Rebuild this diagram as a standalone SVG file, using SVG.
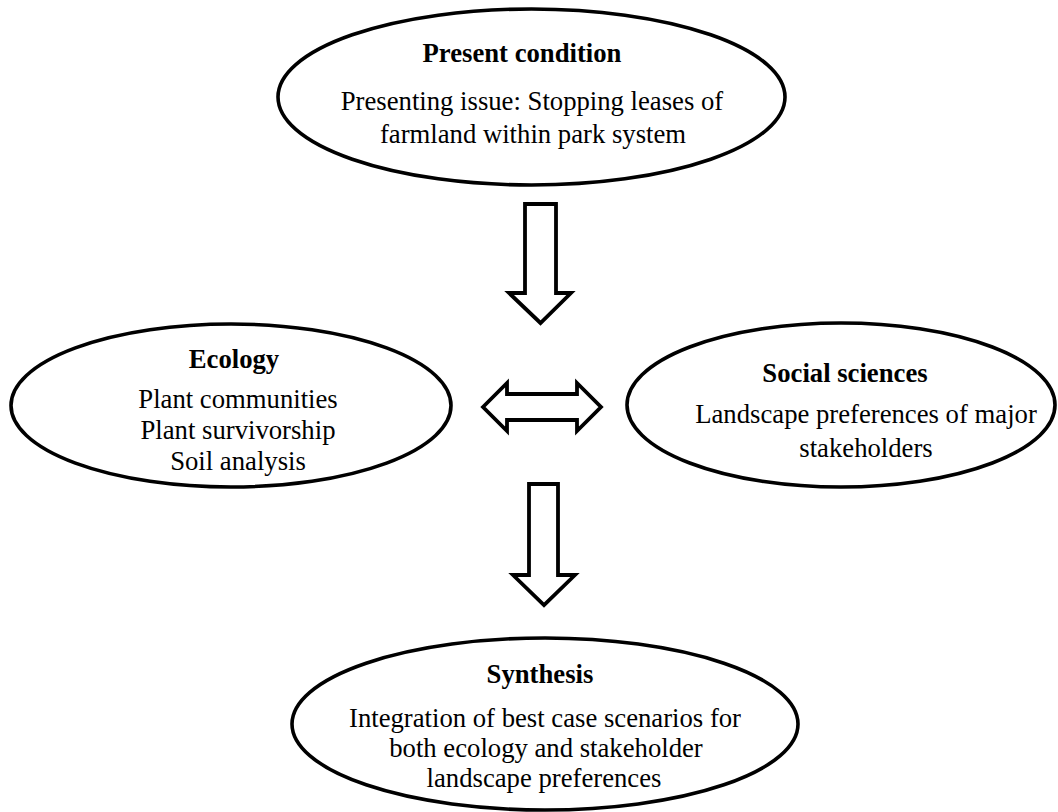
<svg xmlns="http://www.w3.org/2000/svg" width="1058" height="812" viewBox="0 0 1058 812">
<style>
.node{fill:#fff;stroke:#000;stroke-width:3.6}
.arrow{fill:#fff;stroke:#000;stroke-width:3.8;stroke-linejoin:miter}
text{font-family:"Liberation Serif","Times New Roman",serif;font-size:26.7px;fill:#000;text-anchor:middle}
.t{font-weight:bold}
</style>
<rect width="1058" height="812" fill="#fff"/>
<g id="connectors">
<path class="arrow" d="M525,204 H556 V293 H571 L540.5,323 L509,293 H525 Z"/>
<path class="arrow" d="M483,407 L507,383 V394 H577 V383 L601,407 L577,431 V420 H507 V431 Z"/>
<path class="arrow" d="M529,484 H558 V575 H575 L544,605 L513,575 H529 Z"/>
</g>
<g id="present">
<ellipse class="node" cx="531.5" cy="97" rx="253.5" ry="88"/>
<text class="t" x="522" y="62">Present condition</text>
<text x="532" y="110">Presenting issue: Stopping leases of</text>
<text x="533" y="143">farmland within park system</text>
</g>
<g id="ecology">
<ellipse class="node" cx="231" cy="405.5" rx="220" ry="81.5"/>
<text class="t" x="234" y="368">Ecology</text>
<text x="238" y="408">Plant communities</text>
<text x="238" y="439">Plant survivorship</text>
<text x="238" y="470">Soil analysis</text>
</g>
<g id="social">
<ellipse class="node" cx="841" cy="405" rx="214" ry="82"/>
<text class="t" x="845" y="382">Social sciences</text>
<text x="866" y="423">Landscape preferences of major</text>
<text x="866" y="457">stakeholders</text>
</g>
<g id="synthesis">
<ellipse class="node" cx="545" cy="724" rx="253" ry="86"/>
<text class="t" x="540" y="683">Synthesis</text>
<text x="545" y="727">Integration of best case scenarios for</text>
<text x="546" y="757">both ecology and stakeholder</text>
<text x="544" y="787">landscape preferences</text>
</g>
</svg>
